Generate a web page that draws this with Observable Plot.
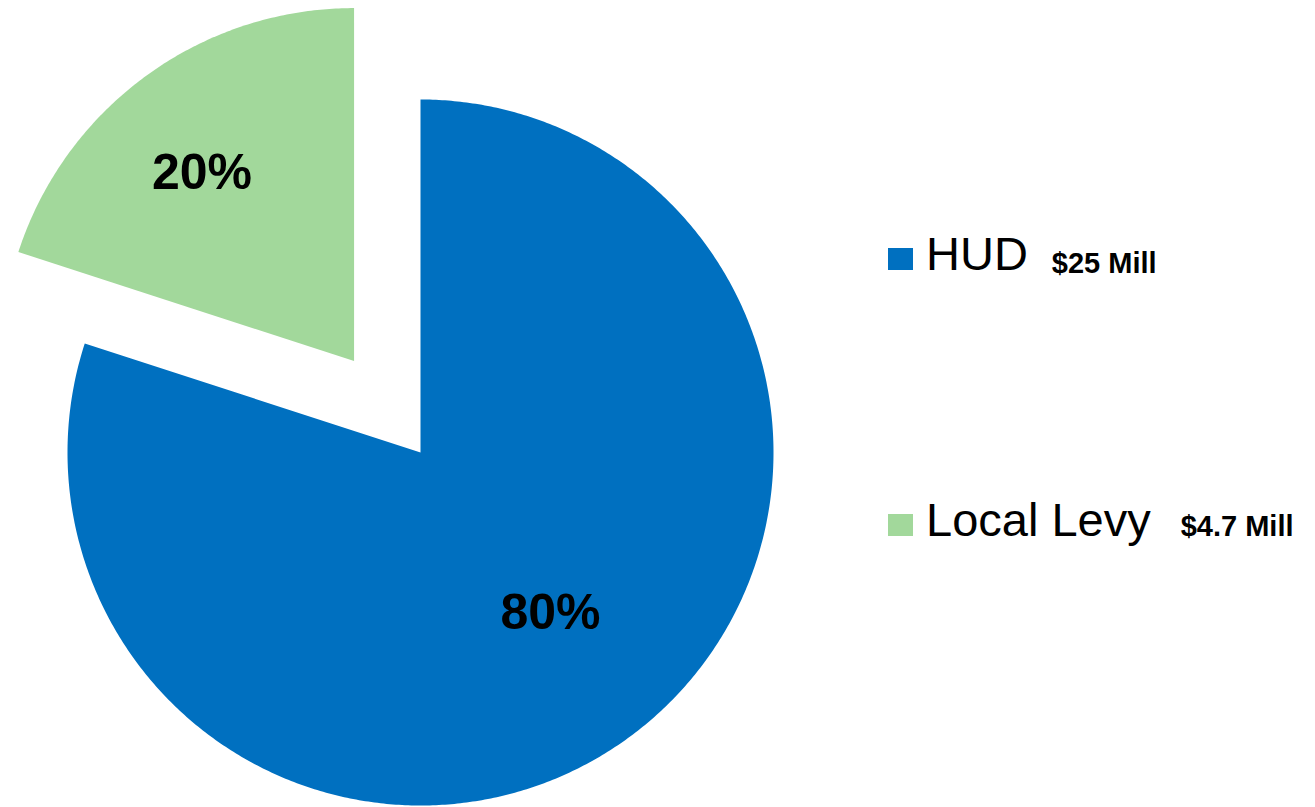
<!DOCTYPE html>
<html><head><meta charset="utf-8">
<script src="https://cdn.jsdelivr.net/npm/d3@7"></script>
<script src="https://cdn.jsdelivr.net/npm/@observablehq/plot@0.6"></script>
<style>
html,body{margin:0;padding:0;background:#fff;}
#wrap{position:relative;width:1315px;height:807px;font-family:"Liberation Sans",Arial,Helvetica,sans-serif;}
#wrap svg{position:absolute;left:0;top:0;}
.leg{position:absolute;left:888px;display:flex;align-items:baseline;white-space:nowrap;line-height:1;color:#000;}
.sw{width:25px;height:22px;display:inline-block;margin-right:13px;}
.name{font-size:47px;}
.amt{font-size:29px;font-weight:bold;position:relative;}
</style></head>
<body><div id="wrap"></div>
<script>
// ---- data ----
const categories = ["HUD", "Local Levy"];
const shares = [80, 20];
const percentLabels = ["80%", "20%"];
const amounts = ["$25 Mill", "$4.7 Mill"];
const exploded = [false, true];
const colors = ["#0070C0", "#A2D89B"];

// ---- layout ----
const W = 1315, H = 807, cx = 420, cy = 452, R = 353, explodeDist = 113;
const labelRadius = [0.585, 0.685];
const labelAngleShift = -3 * Math.PI / 180;

const total = d3.sum(shares);
let acc = 0;
const slices = categories.map((c, i) => {
  const a0 = acc / total * 2 * Math.PI; acc += shares[i];
  const a1 = acc / total * 2 * Math.PI;
  return {c, i, a0, a1, mid: (a0 + a1) / 2};
});
const verts = [], labels = [];
slices.forEach(s => {
  const off = exploded[s.i] ? explodeDist : 0;
  const ox = cx + off * Math.sin(s.mid), oy = cy - off * Math.cos(s.mid);
  verts.push({cat: s.c, x: ox, y: oy});
  const n = Math.max(2, Math.ceil((s.a1 - s.a0) / (Math.PI / 360)));
  for (let k = 0; k <= n; k++) {
    const a = s.a0 + (s.a1 - s.a0) * k / n;
    verts.push({cat: s.c, x: ox + R * Math.sin(a), y: oy - R * Math.cos(a)});
  }
  verts.push({cat: s.c, x: ox, y: oy});
  const la = s.mid + labelAngleShift, lr = R * labelRadius[s.i];
  labels.push({x: ox + lr * Math.sin(la), y: oy - lr * Math.cos(la), text: percentLabels[s.i]});
});

const chart = Plot.plot({
  width: W, height: H, margin: 0,
  x: {domain: [0, W], range: [0, W], axis: null},
  y: {domain: [0, H], range: [0, H], axis: null},
  color: {type: "ordinal", domain: categories, range: colors},
  style: {fontFamily: '"Liberation Sans", Arial, sans-serif', background: "#fff"},
  marks: [
    Plot.line(verts, {x: "x", y: "y", z: "cat", fill: "cat", stroke: "none", curve: "linear"}),
    Plot.text(labels, {x: "x", y: "y", text: "text", fontSize: 50, fontWeight: "bold", fill: "#000"})
  ]
});
const wrap = document.getElementById("wrap");
wrap.appendChild(chart);

const legTops = [230, 496];
const amtGaps = [24, 30];
const amtShift = [3, 0];
categories.forEach((c, i) => {
  const row = document.createElement("div");
  row.className = "leg";
  row.style.top = legTops[i] + "px";
  const sw = document.createElement("span"); sw.className = "sw"; sw.style.background = colors[i];
  const nm = document.createElement("span"); nm.className = "name"; nm.textContent = c;
  const am = document.createElement("span"); am.className = "amt"; am.textContent = amounts[i];
  am.style.marginLeft = amtGaps[i] + "px";
  am.style.top = amtShift[i] + "px";
  row.append(sw, nm, am);
  wrap.appendChild(row);
});
</script>
</body></html>
